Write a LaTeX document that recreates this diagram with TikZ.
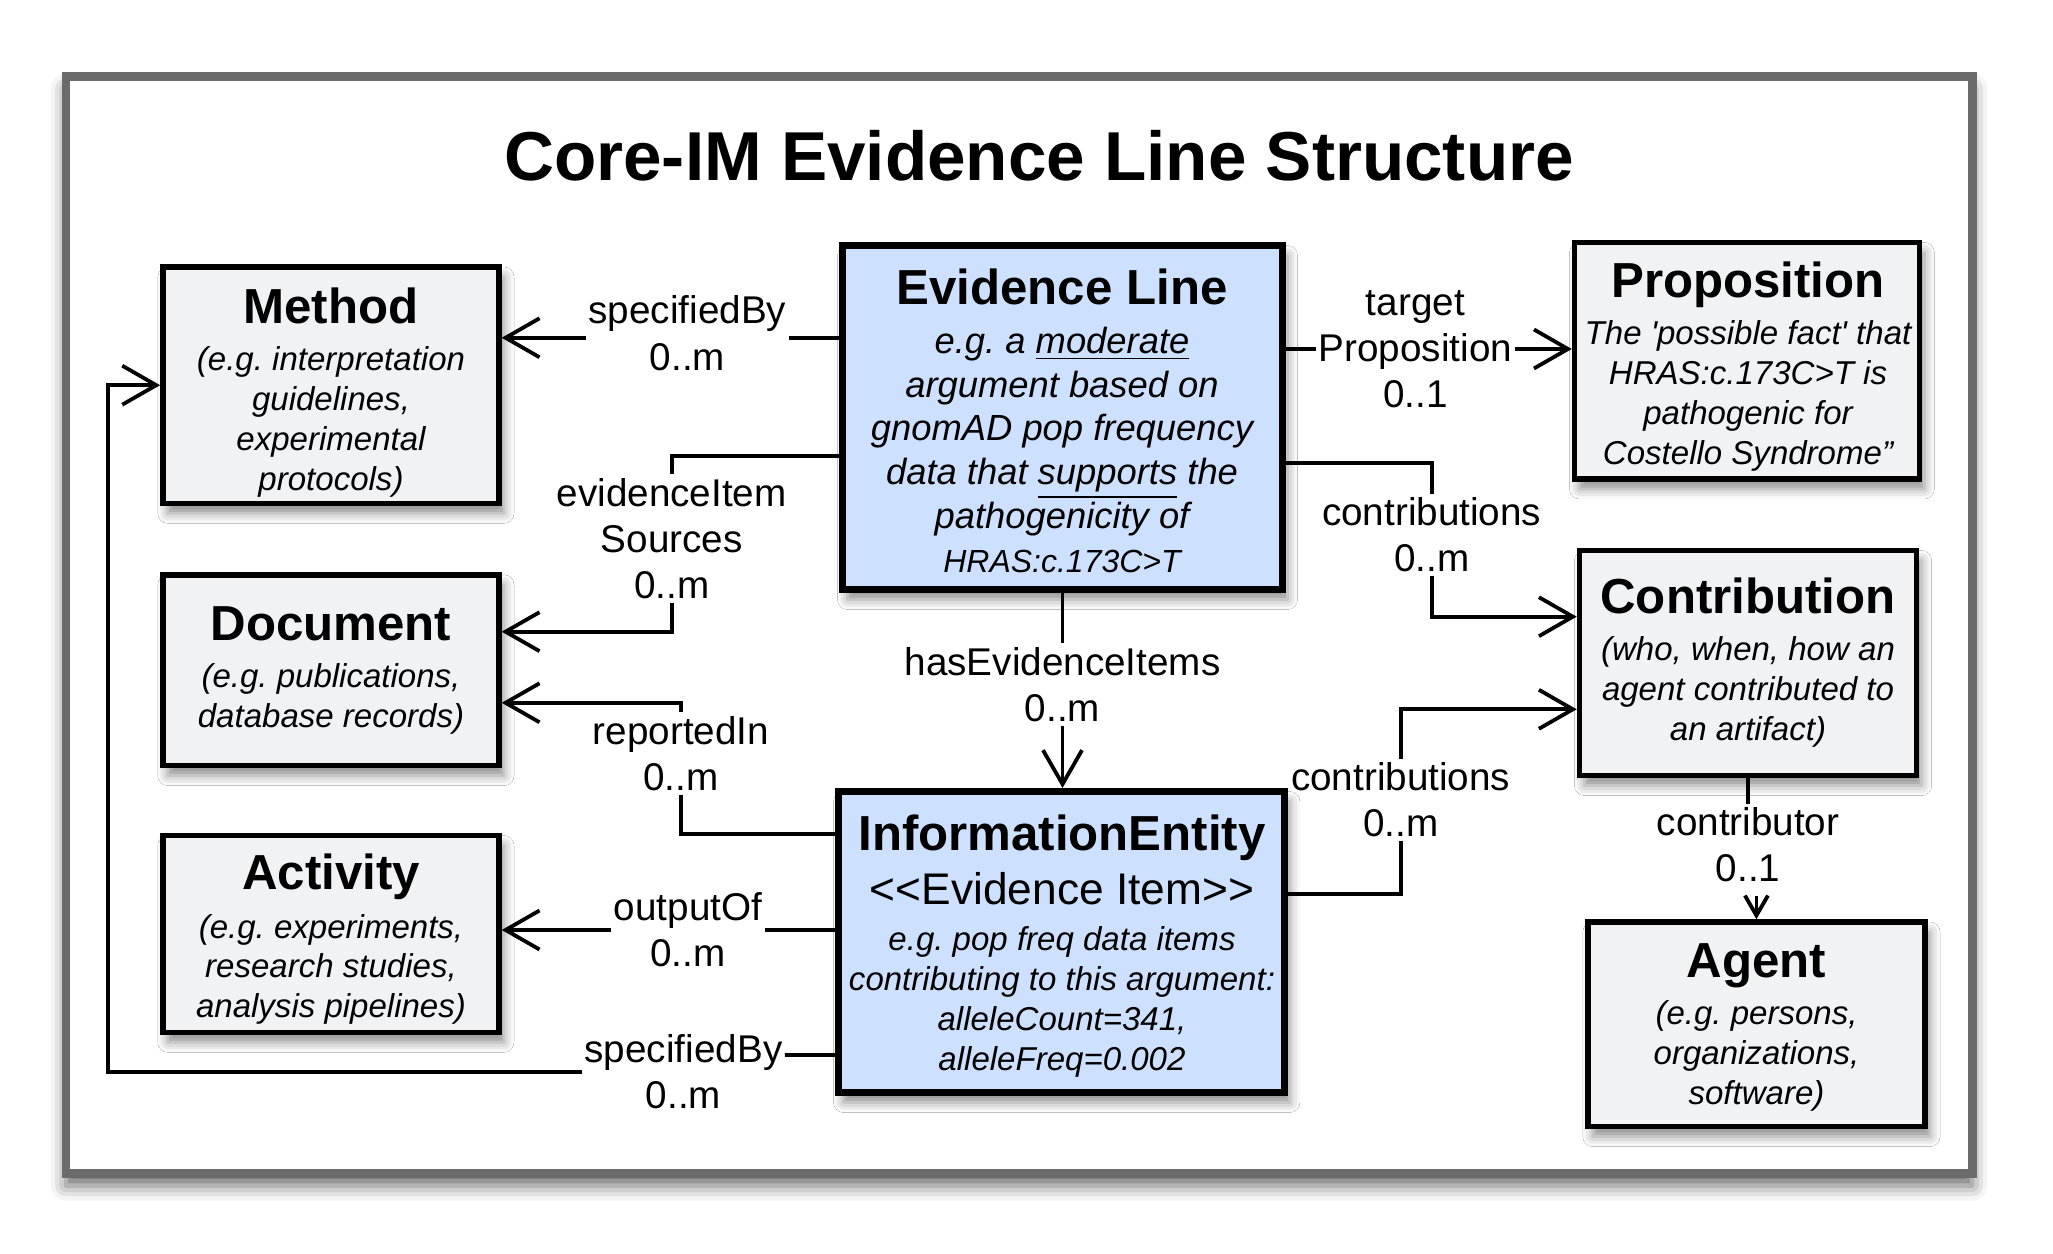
\documentclass[tikz,border=0pt]{standalone}
\usepackage{fontspec}
\setmainfont{Liberation Sans}
\usetikzlibrary{arrows.meta,shadows.blur}

\definecolor{boxgray}{RGB}{241,242,244}
\definecolor{boxblue}{RGB}{205,225,255}
\definecolor{framegray}{RGB}{107,107,107}

\begin{document}
\frenchspacing
\begin{tikzpicture}[
        gbox/.style={draw=black, line width=1.55pt, fill=boxgray,
            blur shadow={shadow xshift=0.5mm, shadow yshift=-1mm, shadow blur radius=1mm, shadow opacity=45}},
        bbox/.style={gbox, line width=2pt, fill=boxblue},
        ttl/.style={anchor=base, font=\fontsize{14}{17}\selectfont\bfseries},
        dsc/.style={align=center, font=\fontsize{9.4}{11.35}\selectfont\itshape},
        lbl/.style={align=center, inner xsep=0.5pt, inner ysep=1pt, font=\fontsize{11}{13.1}\selectfont},
        conn/.style={line width=1.08pt},
        arr/.style={conn, -{Straight Barb[length=3.4mm, width=3.9mm]}},
        sarr/.style={conn, -{Straight Barb[length=2mm, width=2.3mm]}}
    ]
    \useasboundingbox (0,0) rectangle (20.53,-12.54);
    \draw[line width=2.47pt, draw=framegray, fill=white,
        blur shadow={shadow xshift=0mm, shadow yshift=-1.2mm, shadow blur radius=1.5mm, shadow opacity=60}]
        (0.659,-0.767) rectangle (19.723,-11.736); % frame

    \node (title) at (10.39,-1.81) [anchor=base, font=\fontsize{19.7}{24}\selectfont\bfseries] {Core-IM Evidence Line Structure};

    % boxes
    \node[gbox, minimum width=3.362cm, minimum height=2.362cm] (method) at (3.309,-3.852) {}; % method
    \node[gbox, minimum width=3.362cm, minimum height=1.908cm] (doc) at (3.309,-6.702) {}; % document
    \node[gbox, minimum width=3.362cm, minimum height=1.968cm] (act) at (3.309,-9.339) {}; % activity
    \node[bbox, minimum width=4.40cm, minimum height=3.44cm] (el) at (10.625,-4.175) {}; % evidence line
    \node[bbox, minimum width=4.463cm, minimum height=3.01cm] (ie) at (10.617,-9.42) {}; % information entity
    \node[gbox, minimum width=3.448cm, minimum height=2.366cm] (prop) at (17.469,-3.607) {}; % proposition
    \node[gbox, minimum width=3.371cm, minimum height=2.251cm] (contrib) at (17.48,-6.63) {}; % contribution
    \node[gbox, minimum width=3.372cm, minimum height=2.045cm] (agent) at (17.564,-10.243) {}; % agent

    % box texts
    \node[ttl] (methodt) at (3.31,-3.233) {Method};
    \node[dsc] (methodd) at (3.31,-4.22) {(e.g. interpretation\\guidelines,\\experimental\\protocols)};
    \node[ttl] (doct) at (3.31,-6.405) {Document};
    \node[dsc] (docd) at (3.31,-6.993) {(e.g. publications,\\database records)};
    \node[ttl] (actt) at (3.31,-8.895) {Activity};
    \node[dsc] (actd) at (3.31,-9.694) {(e.g. experiments,\\research studies,\\analysis pipelines)};
    \node[ttl] (elt) at (10.62,-3.042) {Evidence Line};
    \node[dsc, font=\fontsize{10.35}{12.45}\selectfont\itshape] (eld) at (10.62,-4.497) {e.g. a \underline{moderate}\\argument based on\\gnomAD pop frequency\\data that \underline{supports} the\\pathogenicity of\\ \fontsize{9.1}{11}\selectfont HRAS:c.173C>T};
    \node[ttl] (iet) at (10.62,-8.502) {InformationEntity};
    \node (iest) at (10.62,-8.89) [font=\fontsize{12.6}{15}\selectfont] {<{}<Evidence Item>{}>};
    \node[dsc] (ied) at (10.62,-10.017) {e.g. pop freq data items\\contributing to this argument:\\alleleCount=341,\\alleleFreq=0.002};
    \node[ttl] (propt) at (17.48,-2.977) {Proposition};
    \node[dsc] (propd) at (17.48,-3.961) {The \textquotesingle possible fact\textquotesingle{} that\\HRAS:c.173C>T is\\pathogenic for\\Costello Syndrome''};
    \node[ttl] (contribt) at (17.48,-6.132) {Contribution};
    \node[dsc] (contribd) at (17.48,-6.918) {(who, when, how an\\agent contributed to\\an artifact)};
    \node[ttl] (agentt) at (17.565,-9.772) {Agent};
    \node[dsc] (agentd) at (17.565,-10.558) {(e.g. persons,\\organizations,\\software)};

    % labels
    \node[lbl] (sbA) at (6.874,-3.332) {specifiedBy\\0..m};
    \node[lbl] (tp) at (14.154,-3.49) {target\\Proposition\\0..1};
    \node[lbl] (cA) at (14.317,-5.35) {contributions\\0..m};
    \node[lbl] (eiS) at (6.717,-5.386) {evidenceItem\\Sources\\0..m};
    \node[lbl] (hEI) at (10.625,-6.847) {hasEvidenceItems\\0..m};
    \node[lbl] (rI) at (6.81,-7.533) {reportedIn\\0..m};
    \node[lbl] (oO) at (6.88,-9.30) {outputOf\\0..m};
    \node[lbl] (sbB) at (6.835,-10.717) {specifiedBy\\0..m};
    \node[lbl] (cB) at (14.007,-8.0) {contributions\\0..m};
    \node[lbl] (ctr) at (17.48,-8.45) {contributor\\0..1};
    \coordinate (lft) at (1.08,-10.755);

    % connectors
    \draw[conn] ([yshift=-0.46mm]el.west |- sbA.east) -- ([yshift=-0.46mm]sbA.east);
    \draw[arr] ([yshift=-0.46mm]sbA.west) -- ([yshift=-0.46mm]method.east |- sbA.west);
    \draw[conn] (el.east |- tp.west) -- (tp.west);
    \draw[arr] (tp.east) -- (prop.west |- tp.east);
    \draw[conn] ([yshift=-4.52mm]el.east) -| (cA.north);
    \draw[arr] (cA.south) |- ([yshift=4.63mm]contrib.west);
    \draw[conn] ([yshift=-3.85mm]el.west) -| (eiS.north);
    \draw[arr] (eiS.south) |- ([yshift=3.85mm]doc.east);
    \draw[conn] (el.south) -- (hEI.north);
    \draw[arr] (hEI.south) -- (hEI.south |- ie.north);
    \draw[arr] (rI.north) |- ([yshift=-3.26mm]doc.east);
    \draw[conn] (rI.south) |- ([yshift=10.8mm]ie.west);
    \draw[arr] (oO.west) -- (act.east |- oO.west);
    \draw[conn] (ie.west |- oO.east) -- (oO.east);
    \draw[conn] ([yshift=-11.3mm]ie.west) -- ([yshift=1.67mm]sbB.east);
    \draw[arr] (sbB.west) -- (sbB.west -| lft) |- (method.west);
    \draw[conn] ([yshift=4.77mm]ie.east) -| (cB.south);
    \draw[arr] (cB.north) |- ([yshift=-4.63mm]contrib.west);
    \draw[conn] (contrib.south) -- (ctr.north);
    \draw[sarr, shorten <=1mm] (ctr.south -| agent.north) -- (agent.north);
\end{tikzpicture}
\end{document}
